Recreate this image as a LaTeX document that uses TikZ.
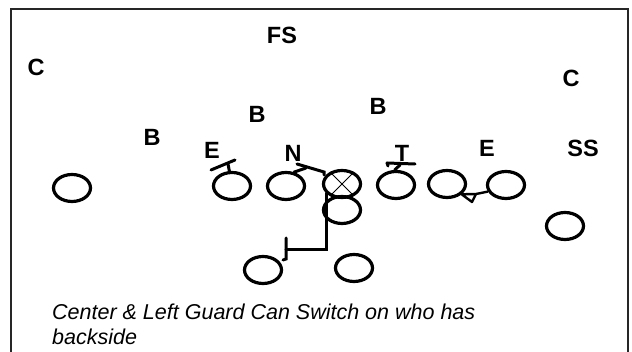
\documentclass[tikz,border=0pt]{standalone}
\usepackage{fontspec}
\setmainfont{Liberation Sans}
\usetikzlibrary{shapes.geometric}
\tikzset{
  player/.style={draw, ellipse, line width=3.2pt, minimum width=37pt, minimum height=27pt, inner sep=0pt},
  tag/.style={font=\fontsize{23.5}{26}\selectfont\bfseries, inner sep=0pt},
  blockline/.style={line width=3pt, line cap=round},
  note/.style={font=\fontsize{21.5}{25}\selectfont\itshape, align=left, anchor=north west, inner sep=0pt}
}
\begin{document}
\begin{tikzpicture}[x=1pt, y=-1pt]
\useasboundingbox (0,0) rectangle (632,352);
% outer frame, open at the bottom
\draw[line width=1.8pt, black!85] (11,352) -- (11,9) -- (628,9) -- (628,352);

% defense labels
\node[tag] (fs) at (282,35) {FS};
\node[tag] (cl) at (36,67) {C};
\node[tag] (cr) at (571,78) {C};
\node[tag] (b1) at (152,137) {B};
\node[tag] (b2) at (257,114) {B};
\node[tag] (b3) at (378,106) {B};
\node[tag] (el) at (212,150) {E};
\node[tag] (n)  at (293,153) {N};
\node[tag] (t)  at (402,153) {T};
\node[tag] (er) at (487,148) {E};
\node[tag] (ss) at (583,148) {SS};

% offense
\node[player] (wl) at (72,188) {};
\node[player] (lt) at (232,186) {};
\node[player] (lg) at (286,186) {};
\node[player] (c)  at (342,184) {};
\node[player] (rg) at (396,185) {};
\node[player] (rt) at (447,184) {};
\node[player] (te) at (506,185) {};
\node[player] (wr) at (565,226) {};
\node[player] (qb) at (342,210) {};
\node[player] (hb1) at (263,270) {};
\node[player] (hb2) at (354,268) {};

% the X marking the center
\draw[line width=1pt] (c.135) -- (c.-45);
\draw[line width=1pt] (c.45) -- (c.-135);

% block on the left end
\coordinate (ltb) at (228,164);
\coordinate (ltb1) at (211,170);
\coordinate (ltb2) at (235,160);
\draw[blockline] (lt.100) -- (ltb);
\draw[blockline] (ltb1) -- (ltb2);

% block on the nose
\coordinate (lgb) at (306,168);
\coordinate (lgb1) at (297,164);
\coordinate (lgb2) at (324,172);
\draw[blockline] (lg.60) -- (lgb);
\draw[blockline] (lgb1) -- (lgb2) -- ++(0,3);

% block on the tackle
\coordinate (rgb) at (400,165);
\coordinate (rgb1) at (387,163);
\coordinate (rgb2) at (415,164);
\draw[blockline] (rg.95) -- (rgb);
\draw[blockline] (rgb1) -- (rgb2);
\draw[blockline] (rgb1) -- ++(1,3);

% center pulls to the backside
\coordinate (cbar) at (286,250);
\coordinate (cbar1) at (286,238);
\coordinate (cbar2) at (286,259);
\draw[blockline] (c.210) |- (cbar);
\draw[blockline] (cbar1) -- (cbar2) -- ++(-3,1);

% tackle to end tag with pennant
\coordinate (p1) at (472,202);
\coordinate (p2) at (476,194);
\draw[line width=2.4pt, line join=round] (rt.-35) -- (p1) -- (p2) -- cycle;
\draw[line width=2.4pt] (p2) -- (te.200);

% note
\node[note] (txt) at (52,304) {Center \& Left Guard Can Switch on who has\\backside};
\end{tikzpicture}
\end{document}
